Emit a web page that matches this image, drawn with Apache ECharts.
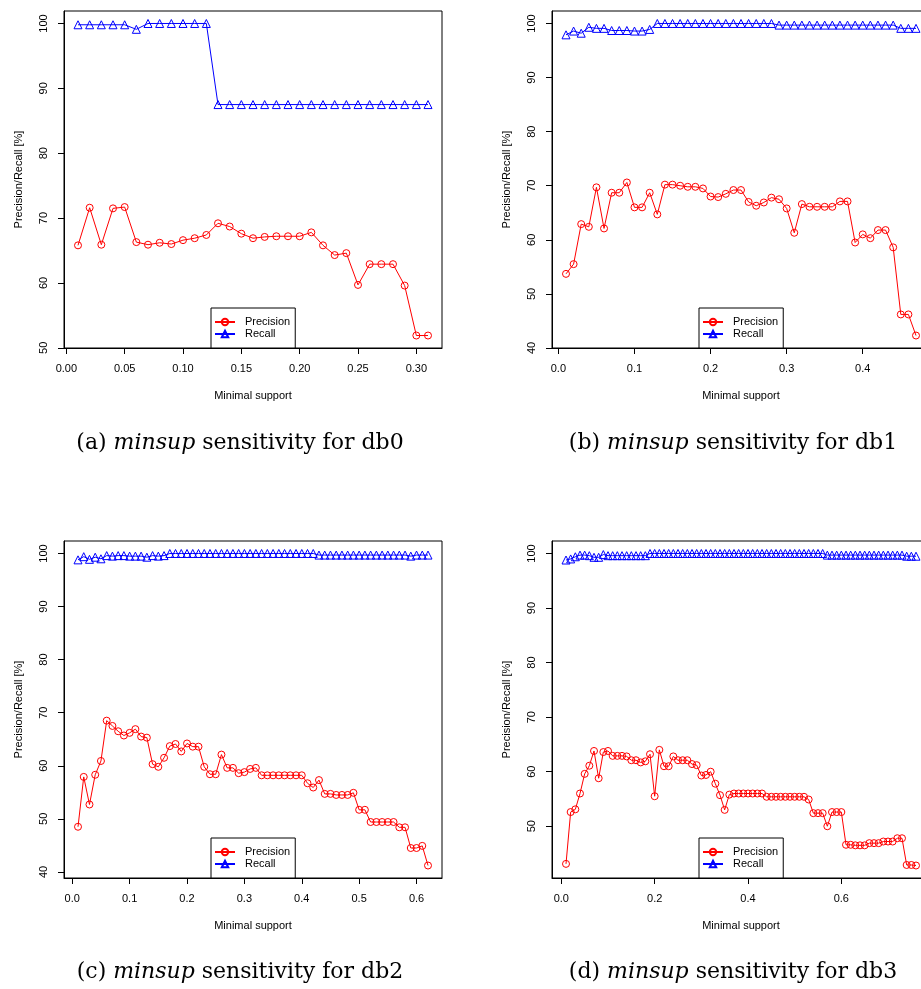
<!DOCTYPE html>
<html>
<head>
<meta charset="utf-8">
<script src="https://cdn.jsdelivr.net/npm/echarts@6/dist/echarts.min.js"></script>
<style>
  html, body { margin: 0; padding: 0; background: #fff; }
  #chart { width: 921px; height: 989px; }
</style>
</head>
<body>
<div id="chart"></div>
<script>
// minimal support values (x) for each database
var supportA = [0.01,0.02,0.03,0.04,0.05,0.06,0.07,0.08,0.09,0.10,0.11,0.12,0.13,0.14,0.15,0.16,0.17,0.18,0.19,0.20,0.21,0.22,0.23,0.24,0.25,0.26,0.27,0.28,0.29,0.30,0.31];
var supportB = [0.01,0.02,0.03,0.04,0.05,0.06,0.07,0.08,0.09,0.10,0.11,0.12,0.13,0.14,0.15,0.16,0.17,0.18,0.19,0.20,0.21,0.22,0.23,0.24,0.25,0.26,0.27,0.28,0.29,0.30,0.31,0.32,0.33,0.34,0.35,0.36,0.37,0.38,0.39,0.40,0.41,0.42,0.43,0.44,0.45,0.46,0.47];
var supportC = [0.01,0.02,0.03,0.04,0.05,0.06,0.07,0.08,0.09,0.10,0.11,0.12,0.13,0.14,0.15,0.16,0.17,0.18,0.19,0.20,0.21,0.22,0.23,0.24,0.25,0.26,0.27,0.28,0.29,0.30,0.31,0.32,0.33,0.34,0.35,0.36,0.37,0.38,0.39,0.40,0.41,0.42,0.43,0.44,0.45,0.46,0.47,0.48,0.49,0.50,0.51,0.52,0.53,0.54,0.55,0.56,0.57,0.58,0.59,0.60,0.61,0.62];
var supportD = [0.01,0.02,0.03,0.04,0.05,0.06,0.07,0.08,0.09,0.10,0.11,0.12,0.13,0.14,0.15,0.16,0.17,0.18,0.19,0.20,0.21,0.22,0.23,0.24,0.25,0.26,0.27,0.28,0.29,0.30,0.31,0.32,0.33,0.34,0.35,0.36,0.37,0.38,0.39,0.40,0.41,0.42,0.43,0.44,0.45,0.46,0.47,0.48,0.49,0.50,0.51,0.52,0.53,0.54,0.55,0.56,0.57,0.58,0.59,0.60,0.61,0.62,0.63,0.64,0.65,0.66,0.67,0.68,0.69,0.70,0.71,0.72,0.73,0.74,0.75,0.76];

// precision [%]
var precisionA = [65.8,71.6,65.9,71.5,71.7,66.3,65.9,66.2,66.0,66.6,66.9,67.4,69.2,68.7,67.6,66.9,67.1,67.2,67.2,67.2,67.8,65.8,64.3,64.6,59.7,62.9,62.9,62.9,59.6,51.9,51.9];
var precisionB = [53.7,55.5,62.9,62.4,69.7,62.1,68.7,68.7,70.6,66.0,66.0,68.7,64.7,70.2,70.2,70.0,69.8,69.8,69.5,68.0,67.9,68.5,69.2,69.2,67.0,66.3,66.9,67.8,67.5,65.8,61.3,66.6,66.1,66.1,66.1,66.1,67.1,67.1,59.5,61.0,60.3,61.8,61.8,58.6,46.2,46.2,42.3];
var precisionC = [48.5,57.9,52.7,58.3,60.9,68.5,67.5,66.5,65.7,66.2,66.9,65.5,65.3,60.3,59.8,61.5,63.7,64.1,62.7,64.2,63.6,63.6,59.8,58.4,58.4,62.1,59.6,59.6,58.6,58.8,59.4,59.6,58.2,58.2,58.2,58.2,58.2,58.2,58.2,58.2,56.7,55.9,57.3,54.7,54.7,54.5,54.5,54.5,54.9,51.7,51.7,49.4,49.4,49.4,49.4,49.4,48.4,48.4,44.5,44.5,44.9,41.2];
var precisionD = [43.1,52.6,53.1,56.0,59.6,61.1,63.8,58.8,63.6,63.8,62.9,62.9,62.9,62.8,62.1,62.1,61.7,61.9,63.2,55.5,64.0,61.0,61.0,62.8,62.1,62.1,62.1,61.4,61.2,59.3,59.4,60.0,57.8,55.7,53.0,55.8,56.0,56.0,56.0,56.0,56.0,56.0,56.0,55.4,55.4,55.4,55.4,55.4,55.4,55.4,55.4,55.4,54.9,52.4,52.4,52.4,50.0,52.6,52.6,52.6,46.6,46.6,46.5,46.5,46.5,46.9,46.9,46.9,47.2,47.2,47.2,47.8,47.8,42.9,42.9,42.8];

// recall [%]
var recallA = [99.8,99.8,99.8,99.8,99.8,99.1,100,100,100,100,100,100,87.5,87.5,87.5,87.5,87.5,87.5,87.5,87.5,87.5,87.5,87.5,87.5,87.5,87.5,87.5,87.5,87.5,87.5,87.5];
var recallB = [97.9,98.6,98.2,99.3,99.1,99.1,98.7,98.7,98.7,98.6,98.6,98.9,100,100,100,100,100,100,100,100,100,100,100,100,100,100,100,100,99.7,99.7,99.7,99.7,99.7,99.7,99.7,99.7,99.7,99.7,99.7,99.7,99.7,99.7,99.7,99.7,99.1,99.1,99.1];
var recallC = [98.8,99.4,98.9,99.3,99.0,99.6,99.5,99.6,99.6,99.5,99.5,99.5,99.3,99.6,99.5,99.6,100,100,100,100,100,100,100,100,100,100,100,100,100,100,100,100,100,100,100,100,100,100,100,100,100,100,99.7,99.7,99.7,99.7,99.7,99.7,99.7,99.7,99.7,99.7,99.7,99.7,99.7,99.7,99.7,99.7,99.5,99.7,99.7,99.7];
var recallD = [98.8,99.0,99.4,99.7,99.7,99.6,99.3,99.3,99.8,99.6,99.6,99.6,99.6,99.6,99.6,99.6,99.6,99.6,100,100,100,100,100,100,100,100,100,100,100,100,100,100,100,100,100,100,100,100,100,100,100,100,100,100,100,100,100,100,100,100,100,100,100,100,100,100,99.7,99.7,99.7,99.7,99.7,99.7,99.7,99.7,99.7,99.7,99.7,99.7,99.7,99.7,99.7,99.7,99.7,99.5,99.5,99.5];

// tick labels
var xTicksA = [0, 0.05, 0.10, 0.15, 0.20, 0.25, 0.30];
var xTicksB = [0, 0.1, 0.2, 0.3, 0.4];
var xTicksC = [0, 0.1, 0.2, 0.3, 0.4, 0.5, 0.6];
var xTicksD = [0, 0.2, 0.4, 0.6];
var yTicksA = [50, 60, 70, 80, 90, 100];
var yTicksB = [40, 50, 60, 70, 80, 90, 100];
var yTicksC = [40, 50, 60, 70, 80, 90, 100];
var yTicksD = [50, 60, 70, 80, 90, 100];

var captions = ['(a) {i|minsup} sensitivity for db0', '(b) {i|minsup} sensitivity for db1',
                '(c) {i|minsup} sensitivity for db2', '(d) {i|minsup} sensitivity for db3'];

var panels = [
  { x: supportA, p: precisionA, r: recallA, xt: xTicksA, yt: yTicksA, dec: 2 },
  { x: supportB, p: precisionB, r: recallB, xt: xTicksB, yt: yTicksB, dec: 1 },
  { x: supportC, p: precisionC, r: recallC, xt: xTicksC, yt: yTicksC, dec: 1 },
  { x: supportD, p: precisionD, r: recallD, xt: xTicksD, yt: yTicksD, dec: 1 }
];

// plot boxes (px) and caption centres
var layout = [
  { left: 64,  top: 11,  legendTop: 308, legendLeft: 211, cx: 240, cy: 443 },
  { left: 552, top: 11,  legendTop: 308, legendLeft: 699, cx: 733, cy: 443 },
  { left: 64,  top: 541, legendTop: 838, legendLeft: 211, cx: 240, cy: 972 },
  { left: 552, top: 541, legendTop: 838, legendLeft: 699, cx: 733, cy: 972 }
];
var plotW = 378, plotH = 337;

var sans = '"Liberation Sans", Arial, Helvetica, sans-serif';
var serif = '"DejaVu Serif", serif';
var ink = '#000';

function zip(xs, ys) {
  return xs.map(function (x, k) { return [x, ys[k]]; });
}
// R's default 4% axis extension
function padMin(v) { return v.min - 0.04 * (v.max - v.min); }
function padMax(v) { return v.max + 0.04 * (v.max - v.min); }

var option = {
  animation: false,
  backgroundColor: '#fff',
  grid: [], xAxis: [], yAxis: [], series: [], legend: [], graphic: []
};

panels.forEach(function (pn, i) {
  var L = layout[i];
  option.grid.push({
    left: L.left, top: L.top, width: plotW, height: plotH,
    show: true, borderColor: ink, borderWidth: 1,
    outerBoundsMode: 'none', containLabel: false
  });
  option.xAxis.push({
    gridIndex: i, type: 'value', min: padMin, max: padMax,
    axisLine: { show: true, onZero: false, lineStyle: { color: ink, width: 1 } },
    axisTick: { show: true, length: 6, customValues: pn.xt, lineStyle: { color: ink } },
    axisLabel: {
      customValues: pn.xt, margin: 15, fontSize: 11, color: ink, fontFamily: sans,
      formatter: function (v) { return Number(v).toFixed(pn.dec); }
    },
    splitLine: { show: false },
    name: 'Minimal support', nameLocation: 'middle', nameGap: 42,
    nameTextStyle: { fontSize: 11, color: ink, fontFamily: sans }
  });
  option.yAxis.push({
    gridIndex: i, type: 'value', min: padMin, max: padMax,
    axisLine: { show: true, onZero: false, lineStyle: { color: ink, width: 1 } },
    axisTick: { show: true, length: 6, customValues: pn.yt, lineStyle: { color: ink } },
    axisLabel: {
      customValues: pn.yt, rotate: 90, margin: 15, fontSize: 11, color: ink, fontFamily: sans
    },
    splitLine: { show: false },
    name: 'Precision/Recall [%]', nameLocation: 'middle', nameGap: 40,
    nameTextStyle: { fontSize: 11, color: ink, fontFamily: sans }
  });
  option.series.push({
    name: 'Precision', type: 'line', xAxisIndex: i, yAxisIndex: i,
    data: zip(pn.x, pn.p),
    symbol: 'circle', symbolSize: 7,
    itemStyle: { color: 'rgba(255,255,255,0)', borderColor: '#ff0000', borderWidth: 1 },
    lineStyle: { color: '#ff0000', width: 1 },
    emphasis: { disabled: true }
  });
  option.series.push({
    name: 'Recall', type: 'line', xAxisIndex: i, yAxisIndex: i,
    data: zip(pn.x, pn.r),
    symbol: 'triangle', symbolSize: 8,
    itemStyle: { color: 'rgba(255,255,255,0)', borderColor: '#0000ff', borderWidth: 1 },
    lineStyle: { color: '#0000ff', width: 1 },
    emphasis: { disabled: true }
  });
  option.legend.push({
    data: ['Precision', 'Recall'],
    orient: 'vertical', left: L.legendLeft, top: L.legendTop,
    padding: [8, 5, 8, 3], itemWidth: 20, itemHeight: 8, itemGap: 0,
    backgroundColor: '#fff', borderColor: ink, borderWidth: 1, borderRadius: 0,
    selectedMode: false,
    textStyle: { fontSize: 11, lineHeight: 12, color: ink, fontFamily: sans, padding: [0, 0, 0, 5] }
  });
  option.graphic.push({
    type: 'text', x: L.cx, y: L.cy,
    style: {
      text: captions[i], align: 'center', verticalAlign: 'middle',
      fontSize: 22, fontFamily: serif, fill: ink,
      rich: { i: { fontStyle: 'italic', fontSize: 22, fontFamily: serif } }
    }
  });
});

var chart = echarts.init(document.getElementById('chart'));
chart.setOption(option);
</script>
</body>
</html>
